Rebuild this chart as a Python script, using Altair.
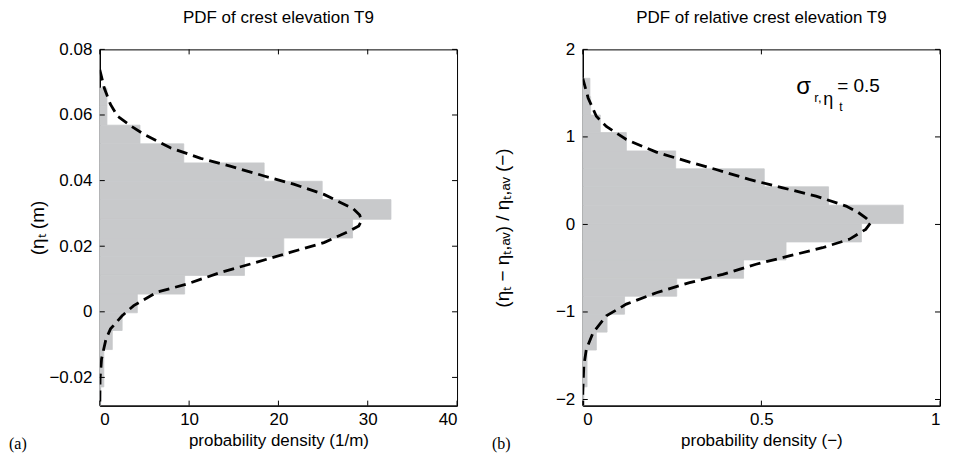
import altair as alt
import pandas as pd

# ---------------- data ----------------
# Left panel: histogram of crest elevation (bin edges top->bottom, densities)
left_edges = [0.0682, 0.0626, 0.0569, 0.0512, 0.0454, 0.0398, 0.0342, 0.0282, 0.0225,
              0.0168, 0.0111, 0.0054, -0.0003, -0.0057, -0.0115, -0.0172, -0.0229, -0.0285]
left_dens = [0.8, 0.8, 4.5, 9.4, 18.4, 24.9, 32.6, 28.3, 20.6, 16.2, 9.5, 4.2, 2.5, 1.4,
             0.45, 0.45, 0.1]
left_fit_eta = [0.0738, 0.0682, 0.0632, 0.0596, 0.0566, 0.0541, 0.0500, 0.0468, 0.0444,
                0.0414, 0.0389, 0.0358, 0.0314, 0.0295, 0.0278, 0.0262, 0.0247, 0.0211,
                0.0181, 0.0146, 0.0120, 0.0085, 0.0060, 0.0019, -0.0012, -0.0052, -0.0082,
                -0.0143, -0.0203, -0.0285]
left_fit_pdf = [0.0, 0.5, 1.2, 2.0, 3.5, 4.95, 7.9, 11.3, 14.6, 18.4, 21.7, 25.1, 28.4,
                29.1, 29.3, 29.0, 28.0, 25.1, 21.3, 16.9, 13.5, 9.8, 6.4, 3.8, 2.5, 1.2,
                0.7, 0.2, 0.03, 0.0]
left_xticks = [0, 10, 20, 30, 40]
left_yticks = [-0.02, 0, 0.02, 0.04, 0.06, 0.08]

# Right panel: histogram of relative crest elevation
right_edges = [1.67, 1.46, 1.25, 1.05, 0.84, 0.635, 0.43, 0.22, 0.01, -0.20, -0.405,
               -0.615, -0.82, -1.025, -1.23, -1.435, -1.645, -1.855, -2.07]
right_dens = [0.02, 0.022, 0.049, 0.122, 0.26, 0.508, 0.688, 0.897, 0.78, 0.569, 0.45,
              0.263, 0.117, 0.068, 0.038, 0.012, 0.012, 0.003]
right_fit_v = [1.67, 1.445, 1.236, 1.12, 0.97, 0.826, 0.723, 0.628, 0.514, 0.418, 0.324,
               0.21, 0.14, 0.076, 0.02, -0.056, -0.17, -0.266, -0.36, -0.455, -0.57,
               -0.665, -0.78, -0.91, -1.045, -1.235, -1.424, -1.615, -1.92, -2.07]
right_fit_pdf = [0.0, 0.015, 0.038, 0.066, 0.122, 0.206, 0.29, 0.373, 0.466, 0.56, 0.653,
                 0.737, 0.77, 0.792, 0.806, 0.792, 0.746, 0.671, 0.578, 0.485, 0.392,
                 0.299, 0.206, 0.122, 0.066, 0.029, 0.01, 0.003, 0.0, 0.0]
right_xticks = [0, 0.5, 1]
right_yticks = [-2, -1, 0, 1, 2]

W, H = 358, 357
FONT = "Liberation Sans"
GRAY = "#c8c9cb"
MINUS = "replace(format(datum.value, '~g'), '-', '\u2212')"


def panel(edges, dens, fit_y, fit_x, xdom, ydom, xticks, yticks,
          title, xtitle, ytitle, ytitle_x, tag):
    xs = alt.Scale(domain=xdom, nice=False, zero=False)
    ys = alt.Scale(domain=ydom, nice=False, zero=False)
    bars_df = pd.DataFrame({"hi": edges[:-1], "lo": edges[1:], "d": dens,
                            "z": [0.0] * len(dens)})
    fit_df = pd.DataFrame({"y": fit_y, "x": fit_x, "o": list(range(len(fit_y)))})

    xaxis = alt.Axis(values=xticks, labelExpr=MINUS, title=xtitle, ticks=False, grid=False,
                     labelPadding=6, titlePadding=5, titleFontSize=17)
    yaxis = alt.Axis(values=yticks, labelExpr=MINUS, title=ytitle, ticks=False, grid=False,
                     labelPadding=8, titleX=ytitle_x, titleY=H / 2, titleFontSize=19)

    bars = alt.Chart(bars_df).mark_rect(color=GRAY, stroke=GRAY, strokeWidth=0.8).encode(
        x=alt.X("z:Q", scale=xs, axis=xaxis),
        x2="d:Q",
        y=alt.Y("lo:Q", scale=ys, axis=yaxis),
        y2="hi:Q",
    )
    line = alt.Chart(fit_df).mark_line(
        color="black", strokeWidth=2.8, strokeDash=[11, 6], clip=True
    ).encode(
        x=alt.X("x:Q", scale=xs),
        y=alt.Y("y:Q", scale=ys),
        order="o:Q",
    )
    xt_df = pd.DataFrame({"t": xticks})
    yt_df = pd.DataFrame({"t": yticks})
    tk = dict(color="black", strokeWidth=1)
    xt_bottom = alt.Chart(xt_df).mark_rule(**tk).encode(
        x=alt.X("t:Q", scale=xs), y=alt.value(H), y2=alt.value(H - 5))
    xt_top = alt.Chart(xt_df).mark_rule(**tk).encode(
        x=alt.X("t:Q", scale=xs), y=alt.value(0), y2=alt.value(5))
    yt_left = alt.Chart(yt_df).mark_rule(**tk).encode(
        y=alt.Y("t:Q", scale=ys), x=alt.value(0), x2=alt.value(5))
    yt_right = alt.Chart(yt_df).mark_rule(**tk).encode(
        y=alt.Y("t:Q", scale=ys), x=alt.value(W), x2=alt.value(W - 5))
    tag_txt = alt.Chart(pd.DataFrame({"s": [tag]})).mark_text(
        font="Liberation Serif", fontSize=16, align="left", baseline="middle",
        color="black"
    ).encode(text="s:N", x=alt.value(-91), y=alt.value(H + 38))
    return alt.layer(bars, line, xt_bottom, xt_top, yt_left, yt_right, tag_txt).properties(
        width=W, height=H,
        title=alt.TitleParams(title, fontSize=17, font=FONT, fontWeight="normal",
                              offset=13, color="black"),
    )


left = panel(left_edges, left_dens, left_fit_eta, left_fit_pdf, [0, 40], [-0.0286, 0.08],
             left_xticks, left_yticks, "PDF of crest elevation T9",
             "probability density (1/m)", "(ηₜ  (m)", -52, "(a)")

right_base = panel(right_edges, right_dens, right_fit_v, right_fit_pdf, [0, 1],
                   [-2.07, 2], right_xticks, right_yticks,
                   "PDF of relative crest elevation T9", "probability density (−)",
                   "(ηₜ  −  ηₜ,ₐᵥ)  /  ηₜ,ₐᵥ  (−)", -70, "(b)")

# annotation sigma_{r, eta_t} = 0.5
ann_parts = ["σ", "r,", "η", "t", "= 0.5"]
ann_dx = [214, 232, 241, 257, 255]
ann_dy = [45, 53, 56, 62, 43]
ann_size = [24, 13, 18, 12, 19]
ann_layers = []
for s, dx, dy, fs in zip(ann_parts, ann_dx, ann_dy, ann_size):
    ann_layers.append(
        alt.Chart(pd.DataFrame({"s": [s]})).mark_text(
            font=FONT, fontSize=fs, align="left", baseline="alphabetic", color="black"
        ).encode(text="s:N", x=alt.value(dx), y=alt.value(dy))
    )
right = alt.layer(right_base, *ann_layers)

chart = alt.hconcat(left, right, spacing=126, bounds="flush").properties(
    padding={"left": 0, "top": 0, "right": 5, "bottom": 0}
).configure_view(stroke="black", strokeWidth=1).configure_axis(
    domainColor="black", domainWidth=1.2, labelFont=FONT, labelFontSize=17,
    labelColor="black", titleFont=FONT, titleColor="black",
    titleFontWeight="normal"
)

chart.save("out.html", embed_options={"renderer": "svg", "actions": False})
